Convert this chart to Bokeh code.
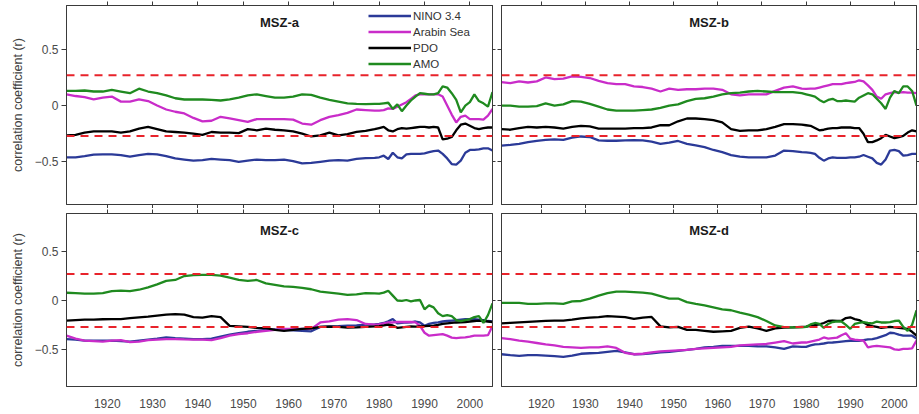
from bokeh.plotting import figure
from bokeh.layouts import column, row
from bokeh.models import Span, Label, Legend, LegendItem, LinearAxis, FixedTicker, Range1d
from bokeh.embed import file_html
from bokeh.resources import INLINE

YEARS = list(range(1911, 1980, 2)) + list(range(1980, 2006))
SERIES_NAMES = ["NINO 3.4", "Arabin Sea", "PDO", "AMO"]
PANEL_TITLES = ["MSZ-a", "MSZ-b", "MSZ-c", "MSZ-d"]
SIG_LEVEL = 0.27
X_TICKS = [1920, 1930, 1940, 1950, 1960, 1970, 1980, 1990, 2000]
Y_TICKS = [-0.5, 0, 0.5]
Y_LABEL = "correlation coefficient (r)"

# ---- MSZ-a ----
A_NINO = [-0.46, -0.46, -0.45, -0.437, -0.435, -0.435, -0.44, -0.455, -0.44, -0.43,
          -0.435, -0.45, -0.47, -0.48, -0.49, -0.485, -0.475, -0.48, -0.485, -0.50,
          -0.49, -0.48, -0.485, -0.485, -0.48, -0.495, -0.515, -0.51, -0.50, -0.49,
          -0.485, -0.49, -0.475, -0.467, -0.465,
          -0.46, -0.446, -0.475, -0.42, -0.46, -0.47, -0.435, -0.43, -0.43, -0.43, -0.425, -0.415, -0.405,
          -0.40, -0.43, -0.47, -0.52, -0.525, -0.49, -0.42, -0.395, -0.395, -0.39, -0.38, -0.38, -0.40]
A_ARAB = [0.10, 0.085, 0.075, 0.055, 0.07, 0.08, 0.035, 0.035, 0.055, 0.04,
          0.0, -0.035, -0.055, -0.07, -0.11, -0.14, -0.135, -0.10, -0.115, -0.13,
          -0.145, -0.12, -0.12, -0.12, -0.12, -0.125, -0.16, -0.17, -0.13, -0.10,
          -0.085, -0.065, -0.035, -0.04, -0.045,
          -0.045, -0.04, -0.025, -0.03, -0.01, 0.01, 0.03, 0.06, 0.09, 0.10, 0.10, 0.10, 0.10,
          0.10, 0.08, 0.0, -0.08, -0.15, -0.10, -0.09, -0.12, -0.12, -0.12, -0.125, -0.09, -0.03]
A_PDO = [-0.265, -0.26, -0.24, -0.23, -0.23, -0.23, -0.24, -0.23, -0.205, -0.19,
         -0.21, -0.23, -0.235, -0.24, -0.25, -0.26, -0.235, -0.24, -0.24, -0.245,
         -0.21, -0.22, -0.205, -0.215, -0.22, -0.23, -0.25, -0.275, -0.265, -0.24,
         -0.265, -0.255, -0.235, -0.225, -0.21,
         -0.20, -0.19, -0.22, -0.23, -0.21, -0.20, -0.205, -0.20, -0.195, -0.19, -0.19, -0.195, -0.19,
         -0.195, -0.30, -0.295, -0.28, -0.22, -0.17, -0.16, -0.18, -0.20, -0.21, -0.20, -0.195, -0.195]
A_AMO = [0.13, 0.13, 0.134, 0.125, 0.125, 0.14, 0.125, 0.11, 0.15, 0.125,
         0.11, 0.09, 0.065, 0.054, 0.054, 0.054, 0.05, 0.045, 0.055, 0.07,
         0.09, 0.10, 0.085, 0.07, 0.07, 0.08, 0.10, 0.095, 0.07, 0.05,
         0.035, 0.02, 0.015, 0.012, 0.015,
         0.015, 0.02, 0.025, -0.03, 0.01, -0.05, 0.0, 0.045, 0.08, 0.11, 0.105, 0.10, 0.10,
         0.11, 0.17, 0.16, 0.11, 0.05, -0.06, 0.0, 0.03, 0.10, 0.04, 0.02, -0.01, 0.12]

# ---- MSZ-b ----
B_NINO = [-0.357, -0.35, -0.34, -0.325, -0.315, -0.305, -0.30, -0.305, -0.285, -0.275,
          -0.28, -0.31, -0.313, -0.313, -0.31, -0.307, -0.31, -0.32, -0.34, -0.33,
          -0.315, -0.34, -0.355, -0.37, -0.395, -0.415, -0.44, -0.455, -0.46, -0.46,
          -0.46, -0.445, -0.40, -0.405, -0.415,
          -0.417, -0.42, -0.43, -0.465, -0.49, -0.47, -0.46, -0.465, -0.465, -0.465, -0.46, -0.46, -0.455,
          -0.44, -0.455, -0.47, -0.51, -0.525, -0.48, -0.40, -0.395, -0.405, -0.445, -0.44, -0.43, -0.43]
B_ARAB = [0.208, 0.20, 0.215, 0.205, 0.215, 0.25, 0.235, 0.24, 0.26, 0.255,
          0.245, 0.22, 0.20, 0.19, 0.19, 0.17, 0.165, 0.15, 0.125, 0.15,
          0.14, 0.145, 0.145, 0.15, 0.15, 0.14, 0.10, 0.09, 0.10, 0.10,
          0.10, 0.13, 0.16, 0.17, 0.15,
          0.149, 0.15, 0.15, 0.16, 0.17, 0.18, 0.19, 0.19, 0.19, 0.20, 0.205, 0.21, 0.225,
          0.215, 0.18, 0.14, 0.08, 0.06, 0.10, 0.11, 0.12, 0.115, 0.12, 0.115, 0.115, 0.11]
B_PDO = [-0.21, -0.215, -0.20, -0.19, -0.195, -0.19, -0.195, -0.205, -0.19, -0.18,
         -0.185, -0.205, -0.205, -0.205, -0.205, -0.20, -0.20, -0.195, -0.175, -0.175,
         -0.14, -0.115, -0.115, -0.12, -0.13, -0.15, -0.21, -0.225, -0.22, -0.22,
         -0.21, -0.19, -0.165, -0.165, -0.17,
         -0.175, -0.18, -0.20, -0.22, -0.215, -0.205, -0.20, -0.20, -0.195, -0.195, -0.195, -0.20, -0.20,
         -0.25, -0.325, -0.325, -0.31, -0.29, -0.26, -0.275, -0.29, -0.28, -0.27, -0.24, -0.22, -0.23]
B_AMO = [0.0, 0.0, -0.01, -0.01, -0.005, 0.02, 0.0, 0.01, 0.04, 0.035,
         0.015, -0.01, -0.035, -0.045, -0.045, -0.045, -0.04, -0.035, -0.02, 0.0,
         0.01, 0.04, 0.06, 0.065, 0.08, 0.10, 0.11, 0.115, 0.125, 0.13,
         0.125, 0.12, 0.12, 0.12, 0.11,
         0.10, 0.09, 0.08, 0.05, 0.03, 0.05, 0.06, 0.04, 0.04, 0.045, 0.04, 0.035, 0.07,
         0.09, 0.11, 0.10, 0.06, 0.02, -0.03, 0.07, 0.13, 0.11, 0.17, 0.17, 0.13, 0.0]

# ---- MSZ-c ----
C_NINO = [-0.395, -0.40, -0.41, -0.412, -0.412, -0.41, -0.415, -0.42, -0.41, -0.40,
          -0.39, -0.378, -0.385, -0.39, -0.395, -0.395, -0.39, -0.37, -0.35, -0.335,
          -0.32, -0.31, -0.30, -0.295, -0.30, -0.305, -0.31, -0.315, -0.27, -0.265,
          -0.262, -0.258, -0.255, -0.247, -0.245,
          -0.24, -0.23, -0.213, -0.19, -0.234, -0.23, -0.225, -0.223, -0.215, -0.225, -0.258, -0.24, -0.23,
          -0.223, -0.215, -0.21, -0.205, -0.20, -0.195, -0.19, -0.19, -0.19, -0.195, -0.20, -0.21, -0.215]
C_ARAB = [-0.36, -0.39, -0.41, -0.415, -0.42, -0.41, -0.405, -0.425, -0.42, -0.405,
          -0.40, -0.395, -0.395, -0.398, -0.40, -0.40, -0.405, -0.385, -0.36, -0.345,
          -0.335, -0.32, -0.31, -0.30, -0.29, -0.29, -0.29, -0.29, -0.225, -0.213,
          -0.195, -0.19, -0.20, -0.24, -0.247,
          -0.245, -0.235, -0.225, -0.225, -0.22, -0.22, -0.22, -0.22, -0.223, -0.26, -0.33, -0.36, -0.355,
          -0.35, -0.345, -0.36, -0.38, -0.385, -0.38, -0.378, -0.37, -0.36, -0.36, -0.36, -0.355, -0.26]
C_PDO = [-0.206, -0.20, -0.196, -0.195, -0.192, -0.19, -0.19, -0.18, -0.172, -0.165,
         -0.155, -0.145, -0.14, -0.145, -0.17, -0.175, -0.16, -0.17, -0.26, -0.265,
         -0.27, -0.28, -0.283, -0.30, -0.31, -0.30, -0.29, -0.285, -0.27, -0.268,
         -0.27, -0.278, -0.275, -0.27, -0.265,
         -0.262, -0.255, -0.247, -0.255, -0.28, -0.275, -0.27, -0.265, -0.268, -0.265, -0.262, -0.26, -0.258,
         -0.25, -0.24, -0.235, -0.23, -0.225, -0.223, -0.22, -0.215, -0.21, -0.206, -0.21, -0.215, -0.22]
C_AMO = [0.079, 0.075, 0.07, 0.07, 0.075, 0.095, 0.10, 0.095, 0.11, 0.135,
         0.165, 0.20, 0.21, 0.25, 0.26, 0.262, 0.262, 0.255, 0.235, 0.21,
         0.20, 0.21, 0.175, 0.16, 0.145, 0.14, 0.13, 0.115, 0.09, 0.08,
         0.07, 0.058, 0.062, 0.075, 0.072,
         0.07, 0.08, 0.10, 0.05, 0.0, -0.005, 0.005, -0.01, 0.0, 0.005, -0.09, -0.05, -0.07,
         -0.13, -0.16, -0.15, -0.16, -0.20, -0.21, -0.20, -0.19, -0.17, -0.16, -0.23, -0.15, -0.03]

# ---- MSZ-d ----
D_NINO = [-0.55, -0.56, -0.567, -0.56, -0.56, -0.565, -0.57, -0.577, -0.565, -0.545,
          -0.54, -0.535, -0.525, -0.515, -0.53, -0.55, -0.548, -0.54, -0.53, -0.525,
          -0.515, -0.505, -0.495, -0.48, -0.475, -0.465, -0.464, -0.464, -0.465, -0.468,
          -0.47, -0.48, -0.495, -0.47, -0.475,
          -0.475, -0.46, -0.45, -0.447, -0.44, -0.432, -0.43, -0.425, -0.42, -0.415, -0.412, -0.412, -0.412,
          -0.405, -0.398, -0.395, -0.385, -0.37, -0.355, -0.33, -0.335, -0.35, -0.36, -0.36, -0.36, -0.39]
D_ARAB = [-0.385, -0.395, -0.41, -0.42, -0.435, -0.45, -0.46, -0.475, -0.48, -0.485,
          -0.48, -0.48, -0.47, -0.485, -0.535, -0.55, -0.545, -0.53, -0.52, -0.515,
          -0.51, -0.505, -0.495, -0.49, -0.485, -0.48, -0.475, -0.46, -0.455, -0.45,
          -0.445, -0.43, -0.415, -0.44, -0.43,
          -0.43, -0.42, -0.41, -0.40, -0.378, -0.39, -0.385, -0.38, -0.355, -0.335, -0.39, -0.40, -0.405,
          -0.41, -0.48, -0.47, -0.465, -0.47, -0.475, -0.48, -0.50, -0.505, -0.495, -0.495, -0.49, -0.41]
D_PDO = [-0.234, -0.228, -0.223, -0.218, -0.213, -0.208, -0.206, -0.206, -0.195, -0.182,
         -0.175, -0.17, -0.16, -0.165, -0.17, -0.188, -0.175, -0.168, -0.265, -0.275,
         -0.27, -0.30, -0.30, -0.31, -0.32, -0.315, -0.31, -0.28, -0.268, -0.285,
         -0.31, -0.285, -0.278, -0.275, -0.27,
         -0.268, -0.26, -0.252, -0.245, -0.23, -0.21, -0.206, -0.208, -0.208, -0.18, -0.172, -0.19, -0.20,
         -0.225, -0.25, -0.262, -0.27, -0.28, -0.275, -0.27, -0.275, -0.28, -0.285, -0.29, -0.32, -0.36]
D_AMO = [-0.024, -0.024, -0.025, -0.035, -0.035, -0.03, -0.03, -0.035, -0.01, -0.005,
         0.02, 0.05, 0.075, 0.09, 0.09, 0.086, 0.08, 0.07, 0.045, 0.02,
         0.02, -0.017, -0.035, -0.05, -0.07, -0.09, -0.10, -0.125, -0.145, -0.17,
         -0.21, -0.255, -0.272, -0.275, -0.275,
         -0.27, -0.245, -0.23, -0.24, -0.28, -0.24, -0.22, -0.213, -0.215, -0.25, -0.29, -0.24, -0.23,
         -0.222, -0.23, -0.234, -0.215, -0.225, -0.225, -0.222, -0.21, -0.205, -0.27, -0.31, -0.25, -0.10]

COLORS = ["#2b3a98", "#c92cc9", "#000000", "#1f8a1f"]
FRAME = "#3a3a3a"
FONT = "Liberation Sans"
X_START, X_END = 1911, 2005
Y_START, Y_END = -0.88, 0.89


def make_axis(ticks, tick_out, labels, standoff=3, axis_label=None):
    ax = LinearAxis(ticker=FixedTicker(ticks=ticks, minor_ticks=[]),
                    major_tick_out=tick_out, major_tick_in=0,
                    minor_tick_out=0, minor_tick_in=0,
                    axis_line_color=FRAME, major_tick_line_color=FRAME,
                    major_tick_line_width=1, axis_line_width=1)
    if labels:
        ax.major_label_text_font = FONT
        ax.major_label_text_font_size = "12px"
        ax.major_label_text_color = "#4a4a4a"
        ax.major_label_standoff = standoff
    else:
        ax.major_label_text_font_size = "0px"
        ax.major_label_standoff = 0
        ax.major_label_text_alpha = 0
    if axis_label:
        ax.axis_label = axis_label
        ax.axis_label_text_font = FONT
        ax.axis_label_text_font_size = "12.5px"
        ax.axis_label_text_font_style = "normal"
        ax.axis_label_text_color = "#404040"
        ax.axis_label_standoff = 7
    return ax


def make_panel(title, series, width, height, bl, br, bt, bb, is_left, is_bottom, with_legend):
    p = figure(width=width, height=height, output_backend="svg", toolbar_location=None,
               x_range=Range1d(X_START, X_END), y_range=Range1d(Y_START, Y_END),
               x_axis_location=None, y_axis_location=None,
               min_border_left=bl, min_border_right=br, min_border_top=bt, min_border_bottom=bb,
               background_fill_color="white", border_fill_color="white")
    p.grid.visible = False
    p.outline_line_color = FRAME
    p.outline_line_width = 1

    # axes
    if is_left:
        p.add_layout(make_axis(Y_TICKS, 5, True, 3, Y_LABEL), "left")
    else:
        p.add_layout(make_axis(Y_TICKS, 4, False), "left")
    p.add_layout(make_axis(Y_TICKS, 3, False), "right")
    p.add_layout(make_axis(X_TICKS, 4, False), "above")
    if is_bottom:
        p.add_layout(make_axis(X_TICKS, 0, True, 12), "below")
    else:
        p.add_layout(make_axis(X_TICKS, 4, False), "below")

    renderers = []
    for vals, col in zip(series, COLORS):
        r = p.line(YEARS, vals, line_color=col, line_width=2.3)
        renderers.append(r)

    for lev in (SIG_LEVEL, -SIG_LEVEL):
        p.add_layout(Span(location=lev, dimension="width", line_color="#e8232b",
                          line_dash="8 6", line_width=2))

    frame_h = height - bt - bb
    p.add_layout(Label(x=(X_START + X_END) / 2, y=frame_h - 17, y_units="screen",
                       text=title, text_align="center", text_baseline="middle",
                       text_font=FONT, text_font_size="13px", text_font_style="bold",
                       text_color="#1a1a1a"))

    if with_legend:
        items = [LegendItem(label=n, renderers=[r]) for n, r in zip(SERIES_NAMES, renderers)]
        leg = Legend(items=items, location=(302, frame_h - 66), orientation="vertical",
                     glyph_width=43, glyph_height=15, label_height=15, spacing=1,
                     padding=0, margin=0, label_standoff=2,
                     label_text_font=FONT, label_text_font_size="11.5px",
                     label_text_color="#333333",
                     background_fill_alpha=0, border_line_alpha=0)
        p.add_layout(leg)
    return p


pa = make_panel(PANEL_TITLES[0], [A_NINO, A_ARAB, A_PDO, A_AMO], 496, 208, 66, 4, 5, 4, True, False, True)
pb = make_panel(PANEL_TITLES[1], [B_NINO, B_ARAB, B_PDO, B_AMO], 423, 208, 5, 3, 5, 4, False, False, False)
pc = make_panel(PANEL_TITLES[2], [C_NINO, C_ARAB, C_PDO, C_AMO], 496, 206, 66, 4, 5, 28, True, True, False)
pd = make_panel(PANEL_TITLES[3], [D_NINO, D_ARAB, D_PDO, D_AMO], 423, 206, 5, 3, 5, 28, False, True, False)

layout = column(row(pa, pb, spacing=0), row(pc, pd, spacing=0), spacing=0)
open("out.html", "w").write(file_html(layout, INLINE))
